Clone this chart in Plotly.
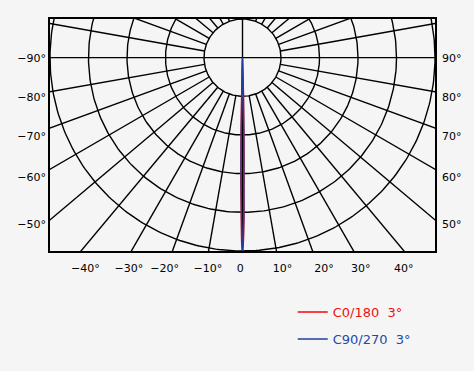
import numpy as np
import plotly.graph_objects as go

# ---- data ----
gamma_deg = [-90, -30, -10, -5, -3, -2, -1.5, -1, -0.75, -0.5, -0.25, 0,
             0.25, 0.5, 0.75, 1, 1.5, 2, 3, 5, 10, 30, 90]
c0_180 = [0, 0, 0.01, 0.02, 0.1, 0.35, 0.9, 2.2, 3.2, 4.2, 4.8, 5.0,
          4.8, 4.2, 3.2, 2.2, 0.9, 0.35, 0.1, 0.02, 0.01, 0, 0]
c90_270 = [0, 0, 0.01, 0.02, 0.07, 0.25, 0.7, 1.9, 2.9, 4.0, 4.75, 5.0,
           4.75, 4.0, 2.9, 1.9, 0.7, 0.25, 0.07, 0.02, 0.01, 0, 0]
series_names = ["C0/180\u00a0\u00a03°", "C90/270\u00a0\u00a03°"]

circle_radii = [1, 2, 3, 4, 5]
side_labels_left = ["\u221290°", "\u221280°", "\u221270°", "\u221260°", "\u221250°"]
side_labels_right = ["90°", "80°", "70°", "60°", "50°"]
bottom_labels = ["\u221240°", "\u221230°", "\u221220°", "\u221210°", "0",
                 "10°", "20°", "30°", "40°"]

# ---- layout constants ----
side_tick_pos = [0, -1.02, -2.02, -3.08, -4.3]
bottom_tick_pos = [-4.08, -2.95, -2.02, -0.90, -0.06, 1.04, 2.12, 3.07, 4.19]
XR = [-5, 5]
YR = [-5, 1]
BG = "#f5f5f5"
FONT = "DejaVu Sans"

fig = go.Figure()

# grid: circles
gx, gy = [], []
t = np.linspace(0, 2 * np.pi, 361)
for r in circle_radii:
    gx += list(r * np.cos(t)) + [None]
    gy += list(r * np.sin(t)) + [None]
# grid: radial lines every 10 deg (angle measured from downward vertical)
for a in range(0, 360, 10):
    ar = np.radians(a)
    r0 = 0 if a in (90, 180, 270) else 1
    r1 = 20
    gx += [r0 * np.sin(ar), r1 * np.sin(ar), None]
    gy += [-r0 * np.cos(ar), -r1 * np.cos(ar), None]
fig.add_trace(go.Scatter(x=gx, y=gy, mode="lines",
                         line=dict(color="black", width=1.4),
                         hoverinfo="skip", showlegend=False))

# data curves
g = np.radians(np.array(gamma_deg, dtype=float))
for vals, name, col, leg in [(c0_180, series_names[0], "#ff0000", "legend"),
                              (c90_270, series_names[1], "#1f3f9f", "legend2")]:
    v = np.array(vals, dtype=float)
    fig.add_trace(go.Scatter(x=v * np.sin(g), y=-v * np.cos(g), mode="lines",
                             line=dict(color=col, width=1.5), name=name,
                             legend=leg, hoverinfo="skip"))

# dummy trace for the right axis
fig.add_trace(go.Scatter(x=[0], y=[0], yaxis="y2", mode="markers",
                         marker=dict(opacity=0), showlegend=False,
                         hoverinfo="skip"))

axis_common = dict(showgrid=False, zeroline=False, fixedrange=True,
                   ticks="", tickfont=dict(family=FONT, size=11, color="#000"))

fig.update_layout(
    width=474, height=371,
    margin=dict(l=50, r=37, t=19, b=120),
    paper_bgcolor=BG, plot_bgcolor=BG,
    font=dict(family=FONT, size=11, color="#000"),
    xaxis=dict(range=XR, tickmode="array", tickvals=bottom_tick_pos,
               ticktext=bottom_labels, showline=True, mirror=True,
               linecolor="black", linewidth=1.6, ticklabelstandoff=6,
               **axis_common),
    yaxis=dict(range=YR, tickmode="array", tickvals=side_tick_pos,
               ticktext=side_labels_left, showline=True, mirror=True,
               linecolor="black", linewidth=1.6, ticklabelstandoff=0,
               **axis_common),
    yaxis2=dict(range=YR, overlaying="y", side="right", tickmode="array",
                tickvals=side_tick_pos, ticktext=side_labels_right,
                showline=False, ticklabelstandoff=6, **axis_common),
    legend=dict(x=(294 - 50) / 387, y=(251 - 312) / 232, xanchor="left",
                yanchor="middle", bgcolor="rgba(0,0,0,0)",
                font=dict(family=FONT, size=13, color="#ee1111")),
    legend2=dict(x=(294 - 50) / 387, y=(251 - 339) / 232, xanchor="left",
                 yanchor="middle", bgcolor="rgba(0,0,0,0)",
                 font=dict(family=FONT, size=13, color="#1f4aa8")),
)

fig.write_html("out.html")
